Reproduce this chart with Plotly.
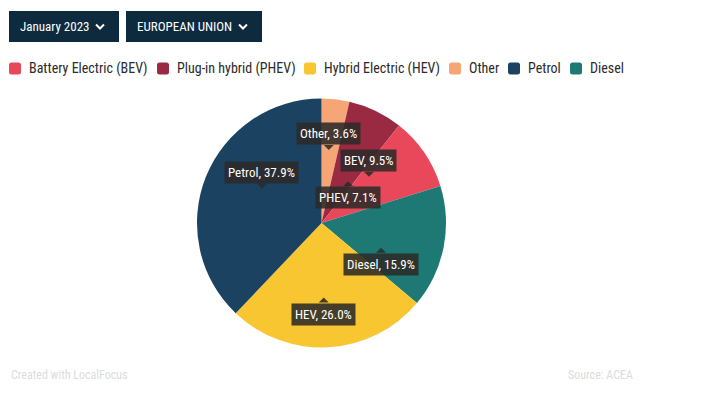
import math
import plotly.graph_objects as go

# ---- data ----
slice_labels = ["Other", "PHEV", "BEV", "Diesel", "HEV", "Petrol"]
slice_values = [3.6, 7.1, 9.5, 15.9, 26.0, 37.9]
slice_colors = ["#F6A676", "#9A2A42", "#E9485A", "#1E7874", "#F8C630", "#1B4260"]

legend_names = ["Battery Electric (BEV)", "Plug-in hybrid (PHEV)", "Hybrid Electric (HEV)",
                "Other", "Petrol", "Diesel"]
legend_colors = ["#E9485A", "#9A2A42", "#F8C630", "#F6A676", "#1B4260", "#1E7874"]

filters = ["January 2023", "EUROPEAN UNION"]
credit = "Created with LocalFocus"
source = "Source: ACEA"

# ---- layout constants ----
OFF = 8  # page body margin
W, H = 703 - 2 * OFF, 394 - 2 * OFF
CX, CY, R = 321.5, 223.0, 124.5
FONT = "Roboto Condensed, Liberation Sans Narrow, Roboto, sans-serif"


def px(x):
    return (x - OFF) / W


def py(y):
    return 1 - (y - OFF) / H


fig = go.Figure()
fig.add_trace(go.Pie(
    labels=slice_labels, values=slice_values, sort=False, direction="clockwise",
    rotation=0, marker=dict(colors=slice_colors, line=dict(width=0)),
    textinfo="none", hoverinfo="label+percent", showlegend=False,
    domain=dict(x=[px(CX - R), px(CX + R)], y=[py(CY + R), py(CY - R)]),
))

shapes = []
annotations = []

# ---- slice labels (tooltip style) ----
# per label: radius fraction, pixel nudge, arrow side
label_style = {
    "Other": (0.59, (-1, 0), "below"),
    "PHEV": (0.40, (5, 3), "above"),
    "BEV": (0.53, (-7, -9), "below"),
    "Diesel": (0.52, (-4, 12), "above"),
    "HEV": (0.60, (-2, 0), "above"),
    "Petrol": (0.55, (4, -9), "below"),
}
total = sum(slice_values)
cum = 0.0
BOX = "rgba(44,42,40,0.88)"
for lab, val in zip(slice_labels, slice_values):
    a0 = cum / total * 360
    cum += val
    a1 = cum / total * 360
    mid = math.radians((a0 + a1) / 2)
    rf, (dx, dy), side = label_style[lab]
    tx = CX + rf * R * math.sin(mid) + dx
    ty = CY - rf * R * math.cos(mid) + dy
    pct = val / total * 100
    text = f"{lab}, {pct:.1f}%"
    th = 5
    if side == "below":
        boxy, yanch = ty - th, "bottom"
        tri = [(tx - 5, ty - th), (tx + 5, ty - th), (tx, ty)]
    else:
        boxy, yanch = ty + th, "top"
        tri = [(tx - 5, ty + th), (tx + 5, ty + th), (tx, ty)]
    annotations.append(dict(
        x=px(tx), y=py(boxy), xref="paper", yref="paper", text=text, showarrow=False,
        xanchor="center", yanchor=yanch, bgcolor=BOX, borderpad=3,
        font=dict(family=FONT, size=13, color="white"),
    ))
    path = "M " + " L ".join(f"{px(a)},{py(b)}" for a, b in tri) + " Z"
    shapes.append(dict(type="path", xref="paper", yref="paper", path=path,
                       fillcolor=BOX, line=dict(width=0)))

# ---- filter buttons ----
btn_x = [(9, 119), (126, 262)]
for (x0, x1), t in zip(btn_x, filters):
    shapes.append(dict(type="rect", xref="paper", yref="paper",
                       x0=px(x0), x1=px(x1), y0=py(42), y1=py(11),
                       fillcolor="#0E2A3E", line=dict(width=0)))
    annotations.append(dict(x=px(x0 + 9), y=py(26.5), xref="paper", yref="paper", text=t,
                            showarrow=False, xanchor="left", yanchor="middle",
                            font=dict(family=FONT, size=13, color="white")))
    chx = x1 - 19
    path = f"M {px(chx - 4)},{py(24.5)} L {px(chx)},{py(28.5)} L {px(chx + 4)},{py(24.5)}"
    shapes.append(dict(type="path", xref="paper", yref="paper", path=path,
                       line=dict(color="white", width=2)))

# ---- legend ----
leg_sq = [9, 157, 304, 449, 508, 570]
LY = 68.5
for x0, name, col in zip(leg_sq, legend_names, legend_colors):
    s, r = 12, 2.5
    x1, y0, y1 = x0 + s, LY - s / 2, LY + s / 2
    pts = (f"M {px(x0 + r)},{py(y0)} L {px(x1 - r)},{py(y0)} Q {px(x1)},{py(y0)} {px(x1)},{py(y0 + r)} "
           f"L {px(x1)},{py(y1 - r)} Q {px(x1)},{py(y1)} {px(x1 - r)},{py(y1)} "
           f"L {px(x0 + r)},{py(y1)} Q {px(x0)},{py(y1)} {px(x0)},{py(y1 - r)} "
           f"L {px(x0)},{py(y0 + r)} Q {px(x0)},{py(y0)} {px(x0 + r)},{py(y0)} Z")
    shapes.append(dict(type="path", xref="paper", yref="paper", path=pts,
                       fillcolor=col, line=dict(width=0)))
    annotations.append(dict(x=px(x1 + 6), y=py(LY), xref="paper", yref="paper", text=name,
                            showarrow=False, xanchor="left", yanchor="middle",
                            font=dict(family=FONT, size=14, color="#2b2b2b")))

# ---- footer ----
annotations.append(dict(x=px(9), y=py(375), xref="paper", yref="paper", text=credit,
                        showarrow=False, xanchor="left", yanchor="middle",
                        font=dict(family=FONT, size=12, color="#dcdcdc")))
annotations.append(dict(x=px(566), y=py(375), xref="paper", yref="paper", text=source,
                        showarrow=False, xanchor="left", yanchor="middle",
                        font=dict(family=FONT, size=12, color="#dcdcdc")))

fig.update_layout(
    width=W, height=H, margin=dict(l=0, r=0, t=0, b=0),
    paper_bgcolor="white", plot_bgcolor="white",
    shapes=shapes, annotations=annotations, showlegend=False,
)
fig.write_html("out.html")
